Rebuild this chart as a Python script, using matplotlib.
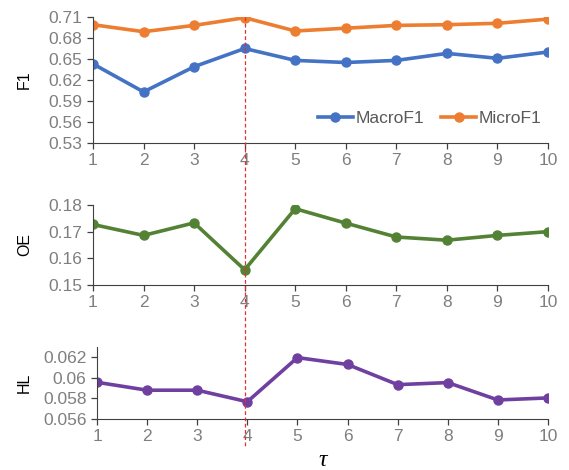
import matplotlib
matplotlib.use("Agg")
import matplotlib.pyplot as plt
from matplotlib.lines import Line2D

plt.rcParams['font.family'] = ['Liberation Sans', 'DejaVu Sans']

tau = [1, 2, 3, 4, 5, 6, 7, 8, 9, 10]
macro_f1 = [0.643, 0.603, 0.639, 0.665, 0.648, 0.645, 0.648, 0.658, 0.651, 0.660]
micro_f1 = [0.699, 0.689, 0.698, 0.709, 0.690, 0.694, 0.698, 0.699, 0.701, 0.707]
oe = [0.1727, 0.1686, 0.1733, 0.1557, 0.1786, 0.1732, 0.1680, 0.1668, 0.1686, 0.1700]
hl = [0.05957, 0.0588, 0.0588, 0.05768, 0.06197, 0.0613, 0.05934, 0.05954, 0.05785, 0.05805]
f1_ticks = [0.53, 0.56, 0.59, 0.62, 0.65, 0.68, 0.71]
oe_ticks = [0.15, 0.16, 0.17, 0.18]
hl_ticks = [0.056, 0.058, 0.06, 0.062]
hl_labels = ['0.056', '0.058', '0.06', '0.062']
best_tau = 4

W, H = 569, 470
fig = plt.figure(figsize=(W / 100, H / 100), dpi=100)

def px_axes(l, r, t, b):
    return fig.add_axes([l / W, 1 - b / H, (r - l) / W, (b - t) / H])

ax1 = px_axes(93, 548, 17, 143)
ax2 = px_axes(93, 548, 205, 285)
ax3 = px_axes(97, 548, 347, 419)

blue = '#4472C4'
orange = '#ED7D31'
green = '#548235'
purple = '#7040A0'
gray = '#7F7F7F'

lkw = dict(lw=2.6, marker='o', ms=6.5)
ax1.plot(tau, macro_f1, color=blue, label='MacroF1', **lkw)
ax1.plot(tau, micro_f1, color=orange, label='MicroF1', **lkw)
ax2.plot(tau, oe, color=green, **lkw)
ax3.plot(tau, hl, color=purple, **lkw)

ax1.set_ylim(0.53, 0.71)
ax1.set_yticks(f1_ticks)
ax1.set_yticklabels(['%.2f' % v for v in f1_ticks])
ax2.set_ylim(0.15, 0.18)
ax2.set_yticks(oe_ticks)
ax2.set_yticklabels(['%.2f' % v for v in oe_ticks])
ax3.set_ylim(0.056, 0.063)
ax3.set_yticks(hl_ticks)
ax3.set_yticklabels(hl_labels)

for ax, lab in [(ax1, 'F1'), (ax2, 'OE'), (ax3, 'HL')]:
    ax.set_xlim(1, 10)
    ax.set_xticks(tau)
    ax.spines['top'].set_visible(False)
    ax.spines['right'].set_visible(False)
    ax.spines['left'].set_color('#404040')
    ax.spines['bottom'].set_color('#404040')
    ax.tick_params(axis='both', direction='out', length=4, width=0.9, color='#404040',
                   labelcolor=gray, labelsize=12.5)
    ax.set_ylabel(lab, fontsize=11.5, color='black')
    pos = ax.get_position()
    ax.yaxis.set_label_coords((32 / W - pos.x0) / pos.width, 0.5)

ax3.set_xlabel('τ', fontsize=17, family='Liberation Serif', style='italic', labelpad=4)

leg = ax1.legend(loc='lower right', ncol=2, frameon=False, fontsize=12.5,
                 handlelength=2.0, columnspacing=1.0, handletextpad=0.15,
                 bbox_to_anchor=(1.02, 0.01))
for t in leg.get_texts():
    t.set_color('#595959')

# vertical dashed line at best tau across all panels
fig.canvas.draw()
xd = ax1.transData.transform((best_tau, 0.71))
xf = fig.transFigure.inverted().transform(xd)
fig.add_artist(Line2D([xf[0], xf[0]], [1 - 17 / H, 1 - 447 / H], transform=fig.transFigure,
                      color='#E03030', lw=0.9, ls=(0, (3, 2))))

fig.savefig('out.png', dpi=100)
